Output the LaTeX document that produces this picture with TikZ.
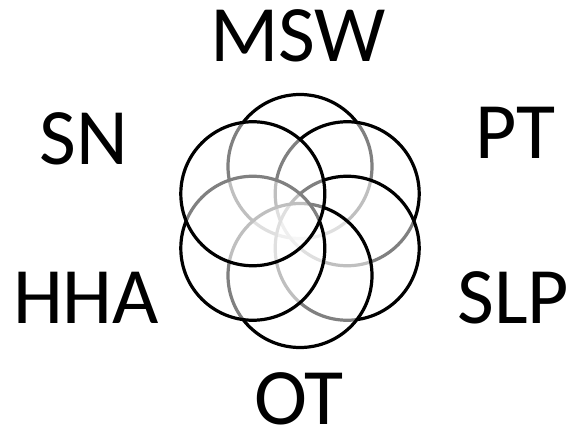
\documentclass[tikz,border=0pt]{standalone}
\usepackage{fontspec}
\setmainfont{Carlito}
\begin{document}
\begin{tikzpicture}[x=1pt,y=-1pt,
  petal/.style={draw=black,line width=3.2pt,fill=white,fill opacity=0.5,draw opacity=1},
  lbl/.style={font=\fontsize{80}{80}\selectfont,inner sep=0pt,anchor=center}]
\useasboundingbox (0,0) rectangle (571,434);
\fill[white] (0,0) rectangle (571,434);
% circles, bottom to top
\coordinate (cMSW) at (300,166.5);
\coordinate (cPT)  at (347.2,193.75);
\coordinate (cSLP) at (347.2,248.25);
\coordinate (cOT)  at (300,275.5);
\coordinate (cHHA) at (252.8,248.25);
\coordinate (cSN)  at (252.8,193.75);
\foreach \c in {cMSW,cPT,cSLP,cOT,cHHA,cSN}{
  \path[petal] (\c) circle[radius=72];
}
\node[lbl] (MSW) at (298,35.5) {MSW};
\node[lbl] (SN) at (84,139) {SN};
\node[lbl] (PT) at (515,132.5) {PT};
\node[lbl] (HHA) at (86,298) {HHA};
\node[lbl] (SLP) at (513.5,298) {SLP};
\node[lbl] (OT) at (299,399) {OT};
\end{tikzpicture}
\end{document}
